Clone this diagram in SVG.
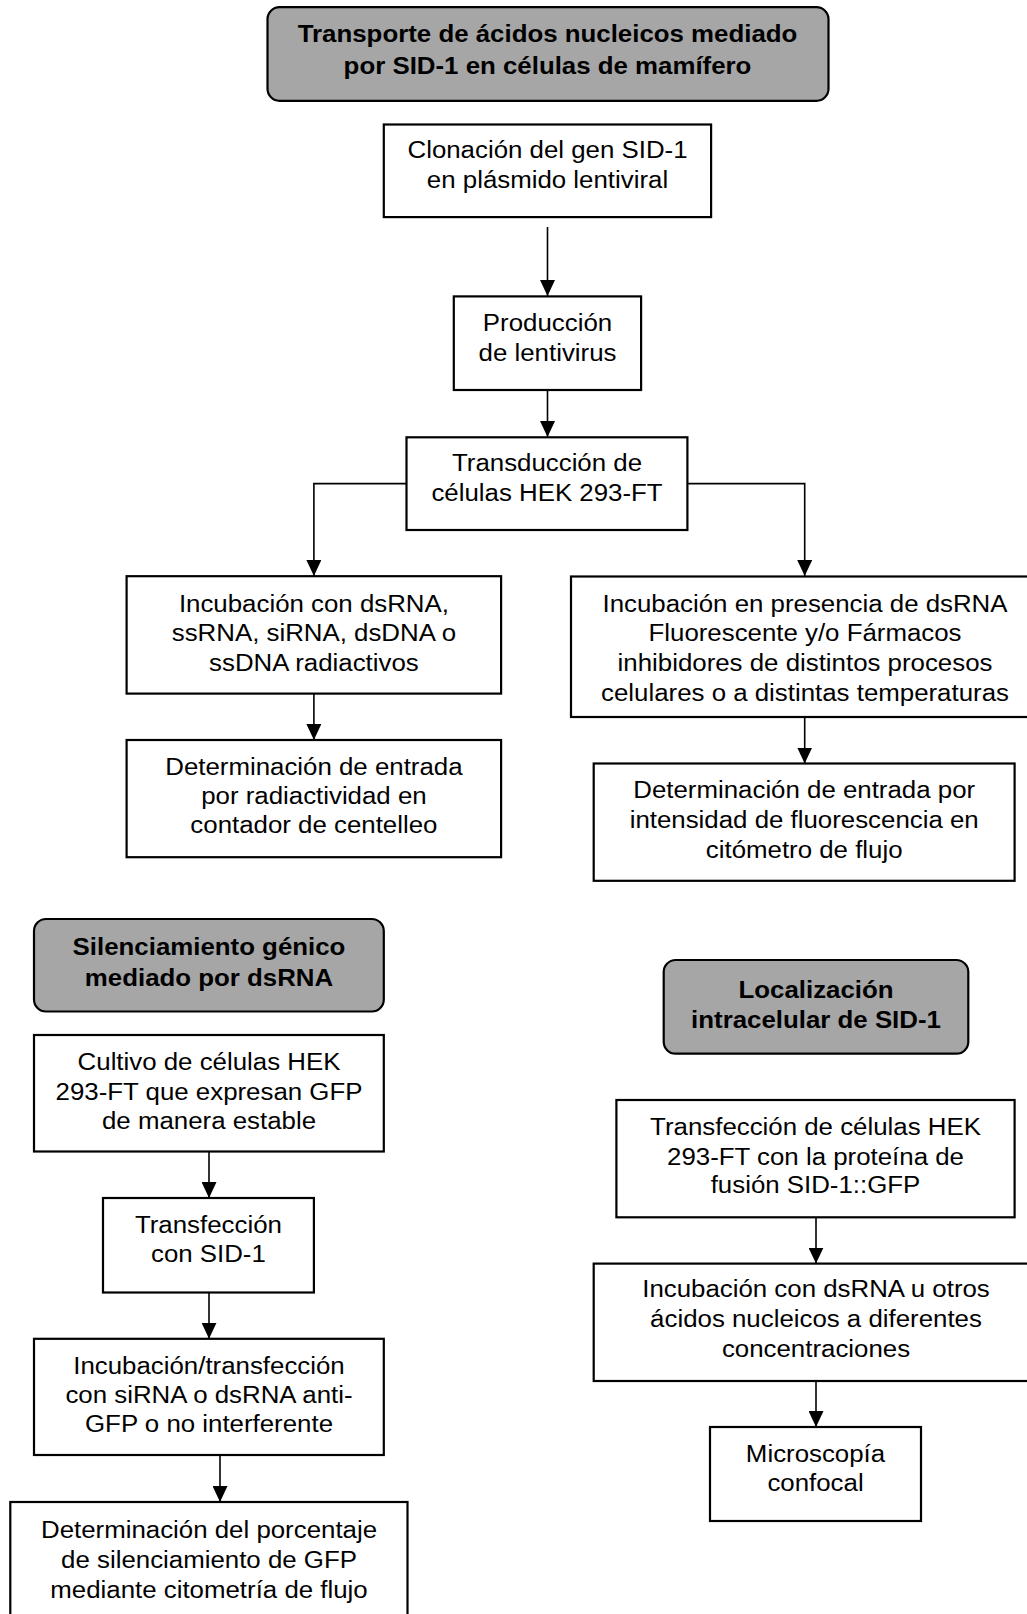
<svg xmlns="http://www.w3.org/2000/svg" width="1027" height="1614" viewBox="0 0 1027 1614">
<style>
  .box { fill: #ffffff; stroke: #000000; stroke-width: 2.2; }
  .head { fill: #a6a6a6; stroke: #000000; stroke-width: 2.2; }
  .t { font-family: "Liberation Sans", Arial, sans-serif; font-size: 24.5px; text-anchor: middle; fill: #000000; }
  .b { font-weight: bold; }
  .conn { fill: none; stroke: #000000; stroke-width: 1.6; }
</style>
<defs>
  <marker id="arrd" markerUnits="userSpaceOnUse" markerWidth="17" markerHeight="15" refX="16" refY="7.5" orient="auto" viewBox="0 0 17 15">
    <path d="M0,0 L16,7.5 L0,15 Z" fill="#000000"/>
  </marker>
</defs>
<rect width="1027" height="1614" fill="#ffffff"/>

<g id="connectors">
  <path class="conn" d="M547.5,227 L547.5,296" marker-end="url(#arrd)"/>
  <path class="conn" d="M547.5,390 L547.5,437" marker-end="url(#arrd)"/>
  <path class="conn" d="M406.5,483.6 L313.9,483.6 L313.9,576" marker-end="url(#arrd)"/>
  <path class="conn" d="M687.4,483.6 L804.7,483.6 L804.7,576" marker-end="url(#arrd)"/>
  <path class="conn" d="M313.9,693.6 L313.9,740" marker-end="url(#arrd)"/>
  <path class="conn" d="M804.7,717 L804.7,763.5" marker-end="url(#arrd)"/>
  <path class="conn" d="M209,1151.5 L209,1198" marker-end="url(#arrd)"/>
  <path class="conn" d="M209,1292.5 L209,1338.8" marker-end="url(#arrd)"/>
  <path class="conn" d="M220,1455 L220,1502" marker-end="url(#arrd)"/>
  <path class="conn" d="M816,1217.3 L816,1263.6" marker-end="url(#arrd)"/>
  <path class="conn" d="M816,1381 L816,1427" marker-end="url(#arrd)"/>
</g>

<g id="title-transporte">
  <rect class="head" x="267.5" y="7.2" width="561" height="93.6" rx="12"/>
  <g transform="translate(547.5,0) scale(1.055,1)">
    <text class="t b" x="0" y="42.5">Transporte de ácidos nucleicos mediado</text>
    <text class="t b" x="0" y="74">por SID-1 en células de mamífero</text>
  </g>
</g>

<g id="clonacion">
  <rect class="box" x="383.8" y="124.5" width="327.3" height="92.6"/>
  <g transform="translate(547.5,0) scale(1.055,1)">
    <text class="t" x="0" y="158.5">Clonación del gen SID-1</text>
    <text class="t" x="0" y="188.5">en plásmido lentiviral</text>
  </g>
</g>

<g id="produccion">
  <rect class="box" x="453.8" y="296.4" width="187.3" height="93.6"/>
  <g transform="translate(547.5,0) scale(1.055,1)">
    <text class="t" x="0" y="331.5">Producción</text>
    <text class="t" x="0" y="361.5">de lentivirus</text>
  </g>
</g>

<g id="transduccion">
  <rect class="box" x="406.5" y="437.3" width="280.9" height="92.7"/>
  <g transform="translate(547,0) scale(1.055,1)">
    <text class="t" x="0" y="471.5">Transducción de</text>
    <text class="t" x="0" y="501.5">células HEK 293-FT</text>
  </g>
</g>

<g id="incubacion-radiactivos">
  <rect class="box" x="126.6" y="576.2" width="374.5" height="117.4"/>
  <g transform="translate(313.9,0) scale(1.055,1)">
    <text class="t" x="0" y="612.5">Incubación con dsRNA,</text>
    <text class="t" x="0" y="641.5">ssRNA, siRNA, dsDNA o</text>
    <text class="t" x="0" y="671">ssDNA radiactivos</text>
  </g>
</g>

<g id="determinacion-radiactividad">
  <rect class="box" x="126.6" y="740" width="374.5" height="117.2"/>
  <g transform="translate(313.9,0) scale(1.055,1)">
    <text class="t" x="0" y="775">Determinación de entrada</text>
    <text class="t" x="0" y="804.5">por radiactividad en</text>
    <text class="t" x="0" y="833.5">contador de centelleo</text>
  </g>
</g>

<g id="incubacion-fluorescente">
  <rect class="box" x="571" y="576.5" width="470" height="140.5"/>
  <g transform="translate(805,0) scale(1.055,1)">
    <text class="t" x="0" y="612.5">Incubación en presencia de dsRNA</text>
    <text class="t" x="0" y="641.5">Fluorescente y/o Fármacos</text>
    <text class="t" x="0" y="671">inhibidores de distintos procesos</text>
    <text class="t" x="0" y="700.8">celulares o a distintas temperaturas</text>
  </g>
</g>

<g id="determinacion-fluorescencia">
  <rect class="box" x="593.7" y="763.5" width="420.9" height="117.3"/>
  <g transform="translate(804.2,0) scale(1.055,1)">
    <text class="t" x="0" y="798.5">Determinación de entrada por</text>
    <text class="t" x="0" y="828.5">intensidad de fluorescencia en</text>
    <text class="t" x="0" y="858.5">citómetro de flujo</text>
  </g>
</g>

<g id="title-silenciamiento">
  <rect class="head" x="34" y="919" width="349.8" height="92.5" rx="12"/>
  <g transform="translate(209,0) scale(1.055,1)">
    <text class="t b" x="0" y="955.5">Silenciamiento génico</text>
    <text class="t b" x="0" y="986.5">mediado por dsRNA</text>
  </g>
</g>

<g id="cultivo">
  <rect class="box" x="34" y="1035" width="349.8" height="116.5"/>
  <g transform="translate(209,0) scale(1.055,1)">
    <text class="t" x="0" y="1070.5">Cultivo de células HEK</text>
    <text class="t" x="0" y="1100">293-FT que expresan GFP</text>
    <text class="t" x="0" y="1129">de manera estable</text>
  </g>
</g>

<g id="transfeccion-sid1">
  <rect class="box" x="103" y="1198" width="210.9" height="94.5"/>
  <g transform="translate(208.4,0) scale(1.055,1)">
    <text class="t" x="0" y="1233">Transfección</text>
    <text class="t" x="0" y="1262.5">con SID-1</text>
  </g>
</g>

<g id="incubacion-sirna">
  <rect class="box" x="34" y="1338.8" width="349.8" height="116.2"/>
  <g transform="translate(209,0) scale(1.055,1)">
    <text class="t" x="0" y="1374">Incubación/transfección</text>
    <text class="t" x="0" y="1403.5">con siRNA o dsRNA anti-</text>
    <text class="t" x="0" y="1432.5">GFP o no interferente</text>
  </g>
</g>

<g id="determinacion-silenciamiento">
  <rect class="box" x="10.3" y="1502" width="397.2" height="130"/>
  <g transform="translate(209,0) scale(1.055,1)">
    <text class="t" x="0" y="1537.8">Determinación del porcentaje</text>
    <text class="t" x="0" y="1567.8">de silenciamiento de GFP</text>
    <text class="t" x="0" y="1597.8">mediante citometría de flujo</text>
  </g>
</g>

<g id="title-localizacion">
  <rect class="head" x="663.7" y="960" width="304.6" height="93.7" rx="12"/>
  <g transform="translate(816,0) scale(1.055,1)">
    <text class="t b" x="0" y="998">Localización</text>
    <text class="t b" x="0" y="1028.5">intracelular de SID-1</text>
  </g>
</g>

<g id="transfeccion-gfp">
  <rect class="box" x="616.4" y="1100" width="398.2" height="117.3"/>
  <g transform="translate(815.5,0) scale(1.055,1)">
    <text class="t" x="0" y="1135">Transfección de células HEK</text>
    <text class="t" x="0" y="1165">293-FT con la proteína de</text>
    <text class="t" x="0" y="1193.5">fusión SID-1::GFP</text>
  </g>
</g>

<g id="incubacion-concentraciones">
  <rect class="box" x="593.7" y="1263.6" width="450" height="117.4"/>
  <g transform="translate(816,0) scale(1.055,1)">
    <text class="t" x="0" y="1297.5">Incubación con dsRNA u otros</text>
    <text class="t" x="0" y="1327.5">ácidos nucleicos a diferentes</text>
    <text class="t" x="0" y="1357.5">concentraciones</text>
  </g>
</g>

<g id="microscopia">
  <rect class="box" x="710" y="1427" width="211" height="94"/>
  <g transform="translate(815.5,0) scale(1.055,1)">
    <text class="t" x="0" y="1462.5">Microscopía</text>
    <text class="t" x="0" y="1491.5">confocal</text>
  </g>
</g>
</svg>
